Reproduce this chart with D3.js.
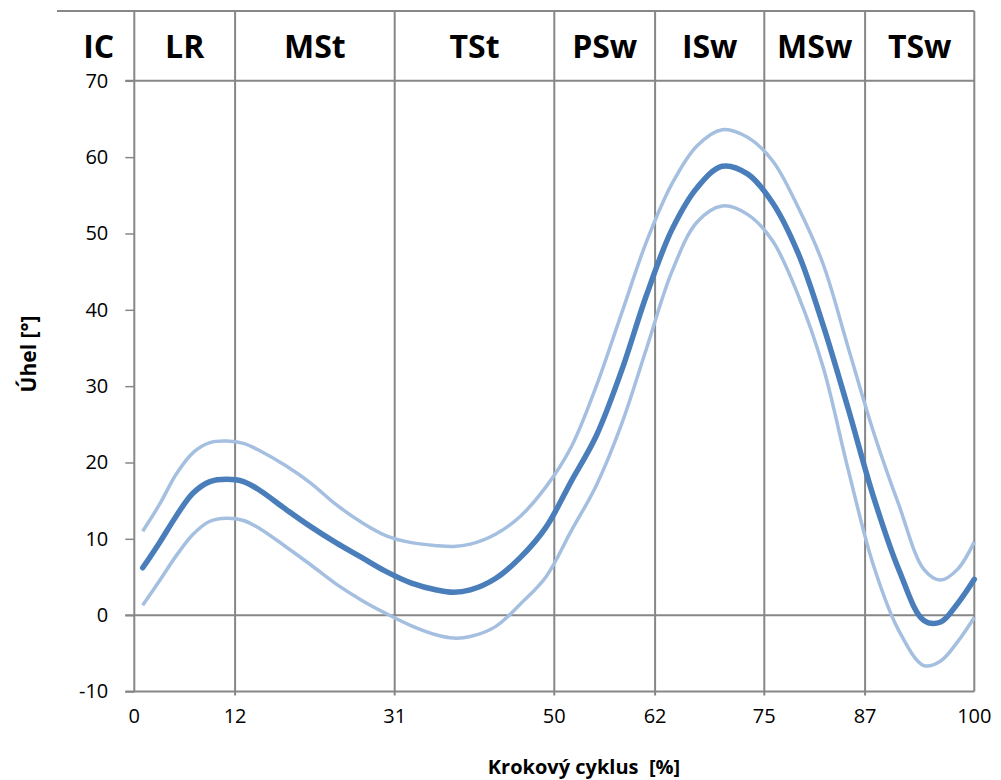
<!DOCTYPE html>
<html>
<head>
<meta charset="utf-8">
<script src="https://cdn.jsdelivr.net/npm/d3@7"></script>
<style>
	body { margin: 0; background: #fff; }
	svg { display: block; font-family: "Open Sans", sans-serif; }
</style>
</head>
<body>
<svg width="1001" height="780"></svg>
<script>

// gait phases and their borders (% of gait cycle)
const phases = ['IC', 'LR', 'MSt', 'TSt', 'PSw', 'ISw', 'MSw', 'TSw'];
const phaseBounds = [0, 12, 31, 50, 62, 75, 87, 100];
const yTicks = [-10, 0, 10, 20, 30, 40, 50, 60, 70];

// knee angle: mean and mean +/- SD
const pct   = [1, 3, 5, 7, 9, 11, 13, 15, 18, 21, 24, 27, 30, 33, 36, 38, 40, 43, 46, 49, 52, 55, 58, 61, 64, 67, 70, 73, 76, 79, 82, 85, 88, 91, 94, 96, 98, 100];
const mean  = [6.2, 9.5, 13.0, 16.0, 17.5, 17.8, 17.5, 16.3, 13.9, 11.6, 9.5, 7.6, 5.7, 4.2, 3.3, 3.0, 3.3, 4.8, 7.6, 11.5, 17.5, 23.5, 32, 42, 50.5, 56, 58.8, 57.8, 54, 47.5, 38, 27, 15.5, 6, -0.7, -0.9, 1.5, 4.7];
const upper = [11, 14.5, 18.5, 21.3, 22.6, 22.8, 22.5, 21.5, 19.6, 17.3, 14.5, 12.2, 10.4, 9.5, 9.1, 9.0, 9.3, 10.6, 13, 16.8, 22, 30, 39.5, 49, 56.5, 61.5, 63.6, 62.6, 59.5, 53.5, 46, 35, 24, 14.5, 6, 4.6, 6, 9.6];
const lower = [1.3, 4.5, 7.8, 10.6, 12.3, 12.7, 12.4, 11.3, 9.0, 6.6, 4.1, 2.0, 0.2, -1.4, -2.6, -3.0, -2.8, -1.5, 1.5, 5, 11, 17, 25, 35, 45, 51.5, 53.6, 52.5, 49, 42, 32.5, 19, 6.5, -2, -6.6, -6, -3.5, -0.3];

const svg = d3.select('svg');
const gridColor = '#878787';
const headTop = 11;		// top border of the phase header
const headLeft = 57;

const x = d3.scaleLinear().domain([0, 100]).range([134.3, 974.3]);
const y = d3.scaleLinear().domain([-10, 70]).range([691.5, 80.8]);

//Horizontal lines: header top, 70, 0 and the bottom axis
svg.append('line')
	.attr('x1', headLeft).attr('x2', x(100))
	.attr('y1', headTop).attr('y2', headTop)
	.attr('stroke', gridColor).attr('stroke-width', 2);

[70, 0, -10].forEach(function (v) {
	svg.append('line')
		.attr('x1', x(0) - 9).attr('x2', x(100))
		.attr('y1', y(v)).attr('y2', y(v))
		.attr('stroke', gridColor).attr('stroke-width', 2);
});

//Vertical phase borders, running through the header
svg.append('g').selectAll('line')
	.data(phaseBounds)
	.join('line')
	.attr('x1', d => x(d)).attr('x2', d => x(d))
	.attr('y1', headTop).attr('y2', d => (d === 0 || d === 100) ? y(-10) : y(-10) + 4)
	.attr('stroke', gridColor).attr('stroke-width', 2);

//Y axis ticks and labels (plain hyphen for the minus, like the original)
const yAxis = svg.append('g')
	.attr('transform', 'translate(' + x(0) + ',0)')
	.call(d3.axisLeft(y).tickValues(yTicks).tickSize(9).tickPadding(17).tickFormat(d => String(d)));
yAxis.select('.domain').remove();
yAxis.selectAll('line').attr('stroke', gridColor).attr('stroke-width', 1.5);
yAxis.selectAll('text')
	.attr('font-family', '"Open Sans", sans-serif')
	.attr('font-size', 20)
	.attr('fill', '#000');

//X axis labels
svg.append('g').selectAll('text')
	.data(phaseBounds)
	.join('text')
	.attr('x', d => x(d))
	.attr('y', 723)
	.attr('text-anchor', 'middle')
	.attr('font-size', 20)
	.text(d => d);

//Phase names in the header
svg.append('g').selectAll('text')
	.data(phases)
	.join('text')
	.attr('x', (d, i) => i === 0 ? (headLeft + x(0)) / 2 + 3 : (x(phaseBounds[i - 1]) + x(phaseBounds[i])) / 2)
	.attr('y', 58)
	.attr('text-anchor', 'middle')
	.attr('font-weight', 'bold')
	.attr('font-size', 32)
	.text(d => d);

//Curves
const line = d3.line()
	.x((d, i) => x(pct[i]))
	.y(d => y(d))
	.curve(d3.curveCatmullRom);

[upper, lower].forEach(function (s) {
	svg.append('path')
		.attr('d', line(s))
		.attr('fill', 'none')
		.attr('stroke', '#a4bfe0')
		.attr('stroke-width', 3.5);
});

svg.append('path')
	.attr('d', line(mean))
	.attr('fill', 'none')
	.attr('stroke', '#4a7ebb')
	.attr('stroke-width', 5.5)
	.attr('stroke-linecap', 'round');

//Axis titles
svg.append('text')
	.attr('x', 584)
	.attr('y', 774)
	.attr('text-anchor', 'middle')
	.attr('font-weight', 'bold')
	.attr('font-size', 20)
	.style('white-space', 'pre')
	.text('Krokový cyklus  [%]');

svg.append('text')
	.attr('transform', 'translate(36,354) rotate(-90)')
	.attr('text-anchor', 'middle')
	.attr('font-weight', 'bold')
	.attr('font-size', 21)
	.text('Úhel [°]');

</script>
</body>
</html>
